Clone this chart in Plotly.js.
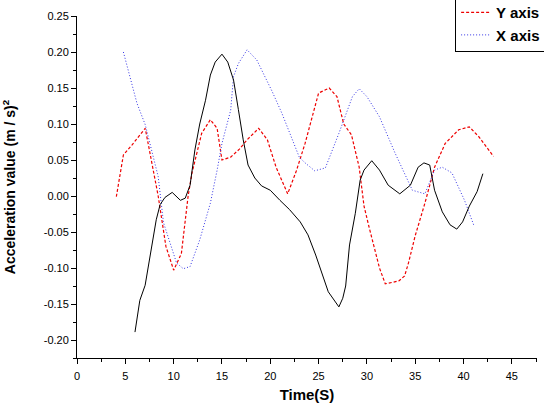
<!DOCTYPE html>
<html>
<head>
<meta charset="utf-8">
<script src="https://cdn.plot.ly/plotly-3.0.1.min.js"></script>
<style>html,body{margin:0;padding:0;background:#fff;}#chart{width:544px;height:406px;}</style>
</head>
<body>
<div id="chart"></div>
<script>
// Y axis (red dashed)
const yAxisTime = [4.07, 4.8, 5.7, 7.06, 8.4, 9.2, 10.0, 10.8, 11.5, 11.9, 12.9, 13.8, 14.5, 15.0, 15.9, 16.8, 17.6, 18.8, 19.7, 20.6, 21.8, 22.7, 23.6, 25.0, 26.1, 26.9, 27.6, 28.4, 29.2, 29.7, 30.2, 31.3, 31.9, 33.3, 33.9, 34.3, 35.0, 36.0, 37.0, 38.1, 39.5, 40.6, 41.6, 43.1];
const yAxisValue = [-0.001, 0.057, 0.071, 0.094, 0.0, -0.07, -0.103, -0.08, 0.0, 0.032, 0.087, 0.106, 0.094, 0.05, 0.054, 0.065, 0.078, 0.094, 0.078, 0.04, 0.003, 0.035, 0.073, 0.143, 0.150, 0.138, 0.100, 0.085, 0.040, -0.014, -0.042, -0.100, -0.122, -0.118, -0.111, -0.093, -0.055, -0.010, 0.040, 0.073, 0.092, 0.096, 0.082, 0.055];

// X axis (blue dotted)
const xAxisTime = [4.8, 5.3, 6.2, 7.06, 7.7, 8.4, 8.95, 10.3, 11.0, 11.7, 12.7, 13.8, 14.5, 15.0, 15.9, 16.2, 16.7, 17.6, 18.6, 20.2, 21.2, 23.0, 23.6, 24.6, 25.7, 27.1, 28.5, 29.2, 30.0, 31.3, 32.9, 34.7, 36.0, 37.0, 37.8, 38.8, 40.1, 41.1];
const xAxisValue = [0.200, 0.175, 0.129, 0.099, 0.064, 0.027, -0.037, -0.093, -0.101, -0.098, -0.061, -0.010, 0.036, 0.073, 0.119, 0.166, 0.184, 0.203, 0.189, 0.145, 0.115, 0.054, 0.046, 0.035, 0.039, 0.087, 0.138, 0.149, 0.138, 0.110, 0.060, 0.008, 0.003, 0.036, 0.040, 0.032, -0.006, -0.042];

// Third series (black solid, not in visible legend)
const zAxisTime = [6.0, 6.5, 7.05, 7.4, 7.8, 8.2, 8.6, 9.1, 9.85, 10.7, 11.2, 11.7, 12.2, 12.7, 13.3, 13.8, 14.3, 15.0, 15.6, 16.2, 16.7, 17.2, 17.7, 18.4, 19.1, 20.0, 21.0, 22.0, 23.1, 23.9, 24.7, 25.4, 26.0, 27.1, 27.5, 27.8, 28.2, 28.8, 29.3, 29.7, 30.5, 31.3, 32.2, 33.4, 34.5, 35.3, 35.9, 36.5, 37.0, 37.8, 38.6, 39.3, 39.9, 40.6, 41.4, 42.0];
const zAxisValue = [-0.189, -0.145, -0.124, -0.096, -0.068, -0.033, -0.012, -0.002, 0.005, -0.006, -0.003, 0.015, 0.064, 0.100, 0.133, 0.168, 0.186, 0.197, 0.186, 0.161, 0.120, 0.078, 0.043, 0.025, 0.014, 0.008, -0.006, -0.019, -0.036, -0.054, -0.082, -0.110, -0.133, -0.154, -0.142, -0.125, -0.068, -0.024, 0.022, 0.036, 0.049, 0.036, 0.015, 0.003, 0.015, 0.040, 0.046, 0.043, 0.008, -0.022, -0.040, -0.046, -0.036, -0.014, 0.006, 0.031];

const xTickVals = [0, 5, 10, 15, 20, 25, 30, 35, 40, 45];
const yTickVals = [-0.20, -0.15, -0.10, -0.05, 0.00, 0.05, 0.10, 0.15, 0.20, 0.25];
const yTickText = ["-0.20", "-0.15", "-0.10", "-0.05", "0.00", "0.05", "0.10", "0.15", "0.20", "0.25"];

const traces = [
  {x: yAxisTime, y: yAxisValue, name: "Y axis", mode: "lines", type: "scatter",
   line: {color: "#ee0000", width: 1.2, dash: "3px,2px"}},
  {x: xAxisTime, y: xAxisValue, name: "X axis", mode: "lines", type: "scatter",
   line: {color: "#3333e6", width: 1, dash: "1px,2px"}},
  {x: zAxisTime, y: zAxisValue, name: "Z axis", mode: "lines", type: "scatter", showlegend: false,
   line: {color: "#000000", width: 1}}
];

const axisFont = {family: "Arial, Liberation Sans, sans-serif", size: 11, color: "#000"};
const layout = {
  width: 544, height: 406,
  margin: {l: 77, r: 7, t: 16, b: 48, autoexpand: false},
  paper_bgcolor: "#fff", plot_bgcolor: "#fff",
  showlegend: true,
  legend: {x: 0.822, xanchor: "left", y: 1.061, yanchor: "top",
    bgcolor: "#fff", bordercolor: "#000", borderwidth: 1,
    font: {family: "Arial, Liberation Sans, sans-serif", size: 15, color: "#000", weight: "bold"},
    tracegroupgap: 0, entrywidth: 110, itemwidth: 30},
  xaxis: {range: [0, 47.6], showgrid: false, zeroline: false, showline: true, linecolor: "#000", linewidth: 1,
    ticks: "outside", ticklen: 5, tickcolor: "#000", tickvals: xTickVals, tickfont: axisFont, ticklabelstandoff: 3,
    minor: {ticks: "outside", ticklen: 3, dtick: 2.5, tick0: 0, tickcolor: "#000", showgrid: false},
    title: {text: "Time(S)", font: {family: "Arial, Liberation Sans, sans-serif", size: 15, color: "#000", weight: "bold"}, standoff: 8}},
  yaxis: {range: [-0.225, 0.25], showgrid: false, zeroline: false, showline: true, linecolor: "#000", linewidth: 1,
    ticks: "outside", ticklen: 5, tickcolor: "#000", tickvals: yTickVals, ticktext: yTickText, tickfont: axisFont,
    minor: {ticks: "outside", ticklen: 3, dtick: 0.025, tick0: 0, tickcolor: "#000", showgrid: false},
    title: {text: "Acceleration value (m / s)<sup>2</sup>", font: {family: "Arial, Liberation Sans, sans-serif", size: 14, color: "#000", weight: "bold"}, standoff: 24}}
};

Plotly.newPlot("chart", traces, layout, {displayModeBar: false, staticPlot: true});
</script>
</body>
</html>
